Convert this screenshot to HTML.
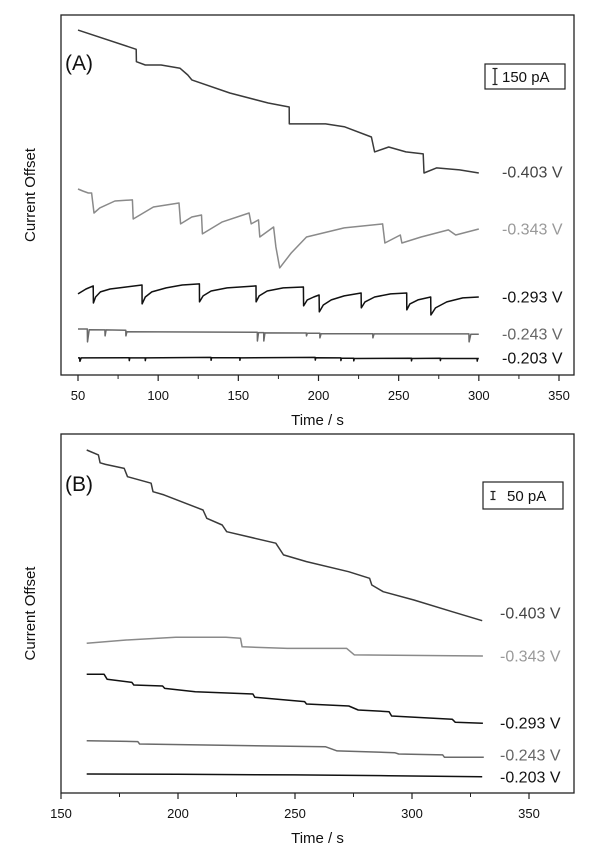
<!DOCTYPE html>
<html><head><meta charset="utf-8"><style>
body{margin:0;background:#fff;}
svg{display:block;font-family:"Liberation Sans",Arial,sans-serif;}
</style></head><body>
<svg id="chart" width="600" height="852" viewBox="0 0 600 852">
  <g id="panelA"></g>
  <g id="panelB"></g>
</svg>
<script>
// ---------- Panel A data (time s, current offset pA) ----------
const aTicks = [50,100,150,200,250,300,350];
const aLabels = ["-0.403 V","-0.343 V","-0.293 V","-0.243 V","-0.203 V"];
const aT403 = [50,86.3,86.4,92,101.8,113.7,118.5,121,144.7,168.6,181.7,181.8,204.4,216,233,235,243.8,254.5,265.3,265.8,273.6,288,300];
const aV403 = [2587,2443,2350,2325,2325,2300,2250,2213,2115,2040,2010,1883,1883,1862,1785,1673,1710,1673,1658,1515,1553,1538,1515];
const aT343 = [50,53,56.4,58.5,60,63.6,73,83.9,84.4,97,113,114,121,127,127.6,140,156.7,158,162.6,163.4,172,173.4,175.8,183,192.5,216,240,241.4,251,252,264,281,285.6,300];
const aV343 = [1395,1380,1365,1365,1215,1253,1305,1313,1170,1260,1290,1133,1185,1200,1058,1148,1215,1133,1163,1035,1110,960,803,915,1035,1103,1133,990,1050,990,1035,1088,1050,1095];
const aT293 = [50,55,59.5,59.6,61,64,70,80,89.9,90,92,96,105,115,125.7,125.8,128,133,143,161,161.1,163,168,178,190.6,190.7,193,197,200.4,200.5,203,208,216,226.6,226.7,229,235,245,255,255.1,257,262,270,270.1,273,280,290,300];
const aV293 = [608,645,668,540,585,623,645,660,675,533,585,623,653,675,683,548,593,630,653,668,548,593,630,653,660,518,563,585,600,473,525,563,593,615,503,548,585,608,615,488,533,563,585,450,503,548,578,585];
const aT243 = [50,55.8,55.9,57,66.8,66.9,67.5,79.8,79.9,80.5,161.8,161.9,162.6,165.8,165.9,166.6,192.4,192.5,193,200.8,200.9,201.6,233.8,233.9,234.6,293.8,293.9,295,300];
const aV243 = [345,345,248,340,338,293,338,335,293,325,320,255,318,318,255,316,315,293,313,313,278,310,310,278,308,308,248,305,305];
const aT203 = [50,51,51.2,52,81.9,82,82.3,91.9,92,92.3,132.9,133,133.3,150.9,151,151.3,197.9,198,198.3,213.9,214,214.3,221.9,222,222.3,257.9,258,258.3,275.9,276,276.3,298.9,299,299.3,300];
const aV203 = [128,128,103,128,130,108,128,128,108,128,132,110,130,130,110,128,132,112,130,128,108,126,126,106,124,126,106,124,126,108,124,124,104,124,124];
// ---------- Panel B data ----------
const bTicks = [150,200,250,300,350];
const bLabels = ["-0.403 V","-0.343 V","-0.293 V","-0.243 V","-0.203 V"];
const bT403 = [161,166,166.7,169,177,178.4,188.5,189.3,194,210.7,212.3,218.9,220.8,241.8,245.1,254.9,272.9,281.9,282.8,287.7,300.8,317.2,330];
const bV403 = [2144,2113,2064,2054,2029,1977,1936,1883,1863,1769,1717,1675,1633,1561,1488,1446,1383,1342,1300,1258,1206,1133,1077];
const bT343 = [161,177.9,199,220.5,226.7,227.4,246.7,272.1,275.4,330.3];
const bV343 = [936,956,973,973,967,914,904,904,863,856];
const bT293 = [161,168.4,169.7,180.3,181.1,193.4,194.3,207.4,232,232.8,254.1,254.9,273,277,290.2,291.3,317.2,318.5,330.3];
const bV293 = [742,742,711,691,675,669,654,633,619,598,571,556,544,519,508,481,461,442,436];
const bT243 = [161,182.8,183.6,263.1,268,292.6,294.3,313.1,313.9,330.7];
const bV243 = [327,321,306,289,263,252,244,238,223,223];
const bT203 = [161,200,250,290,330];
const bV203 = [119,117,113,108,102];

const NS = "http://www.w3.org/2000/svg";
function mk(parent, tag, attrs, text){
  const e = document.createElementNS(NS, tag);
  for (const k in attrs) e.setAttribute(k, attrs[k]);
  if (text !== undefined) e.textContent = text;
  parent.appendChild(e);
  return e;
}

function panel(g, cfg){
  const x = t => cfg.px0 + (t - cfg.t0) * (cfg.px1 - cfg.px0) / (cfg.t1 - cfg.t0);
  const y = v => cfg.bottom - v / cfg.pAperPx;
  // frame
  const fr = mk(g, "rect", {x:cfg.left, y:cfg.top, width:cfg.right-cfg.left, height:cfg.bottom-cfg.top, fill:"none", stroke:"#222", "stroke-width":1.3});
  
  
  // ticks
  cfg.ticks.forEach((t,i) => {
    const tk = mk(g, "line", {x1:x(t), x2:x(t), y1:cfg.bottom, y2:cfg.bottom+6, stroke:"#222", "stroke-width":1.2});
    
    
    const lb = mk(g, "text", {x:x(t), y:cfg.bottom+25, "font-size":13, "text-anchor":"middle", fill:"#111"}, String(t));
    
    
    if (i < cfg.ticks.length-1){
      const m = (t + cfg.ticks[i+1]) / 2;
      const mt = mk(g, "line", {x1:x(m), x2:x(m), y1:cfg.bottom, y2:cfg.bottom+4, stroke:"#222", "stroke-width":1});
      
      
    }
  });
  const xt = mk(g, "text", {x:(cfg.left+cfg.right)/2, y:cfg.bottom+50, "font-size":15, "text-anchor":"middle", fill:"#111"}, "Time / s");
  
  
  const yt = mk(g, "text", {x:0, y:0, "font-size":15, "text-anchor":"middle", fill:"#111", transform:`translate(35,${(cfg.top+cfg.bottom)/2}) rotate(-90)`}, "Current Offset");
  
  
  const pl = mk(g, "text", {x:cfg.left+4, y:cfg.top+cfg.panelDy, "font-size":21, fill:"#111"}, cfg.panelLabel);
  
  
  // legend scale bar
  const lg = mk(g, "g", {});
  
  
  mk(lg, "rect", {x:cfg.leg[0], y:cfg.leg[1], width:cfg.leg[2], height:cfg.leg[3], fill:"#fff", stroke:"#222", "stroke-width":1.2});
  const bx = cfg.leg[0]+10, bm = cfg.leg[1]+cfg.leg[3]/2, bh = cfg.barPA/cfg.pAperPx/2;
  mk(lg, "line", {x1:bx, x2:bx, y1:bm-bh, y2:bm+bh, stroke:"#222", "stroke-width":1.3});
  mk(lg, "line", {x1:bx-2.5, x2:bx+2.5, y1:bm-bh, y2:bm-bh, stroke:"#222", "stroke-width":1.2});
  mk(lg, "line", {x1:bx-2.5, x2:bx+2.5, y1:bm+bh, y2:bm+bh, stroke:"#222", "stroke-width":1.2});
  mk(lg, "text", {x:bx+cfg.legTextDx, y:bm+5.5, "font-size":15, fill:"#111"}, cfg.barText);
  // series
  cfg.series.forEach((s,i) => {
    const d = s.t.map((t,j) => (j?"L":"M") + x(t).toFixed(1) + "," + y(s.v[j]).toFixed(1)).join("");
    const p = mk(g, "path", {d:d, fill:"none", stroke:s.c, "stroke-width":1.5, "stroke-linejoin":"round"});
    
    
    const lt = mk(g, "text", {x:cfg.labelX, y:s.ly+5.5, "font-size":16, fill:s.lc}, cfg.labels[i]);
    
    
  });
}

panel(document.getElementById("panelA"), {
  left:61, right:574, top:15, bottom:375, t0:50, t1:350, px0:78, px1:559, pAperPx:7.5,
  ticks:aTicks, labels:aLabels, panelLabel:"(A)", panelDy:55,
  leg:[485,64,80,25], barPA:120, barText:"150 pA", legTextDx:7,
  labelX:502,
  series:[
    {t:aT403, v:aV403, c:"#3a3a3a", lc:"#444", ly:172},
    {t:aT343, v:aV343, c:"#8a8a8a", lc:"#999", ly:229},
    {t:aT293, v:aT293.length?aV293:[], c:"#111", lc:"#111", ly:297},
    {t:aT243, v:aV243, c:"#6a6a6a", lc:"#666", ly:334},
    {t:aT203, v:aV203, c:"#111", lc:"#111", ly:358}
  ]
});
panel(document.getElementById("panelB"), {
  left:61, right:574, top:434, bottom:793, t0:150, t1:350, px0:61, px1:529, pAperPx:6.25,
  ticks:bTicks, labels:bLabels, panelLabel:"(B)", panelDy:57,
  leg:[483,482,80,27], barPA:50, barText:"50 pA", legTextDx:14,
  labelX:500,
  series:[
    {t:bT403, v:bV403, c:"#3a3a3a", lc:"#444", ly:613},
    {t:bT343, v:bV343, c:"#8a8a8a", lc:"#999", ly:656},
    {t:bT293, v:bV293, c:"#111", lc:"#111", ly:723},
    {t:bT243, v:bV243, c:"#6a6a6a", lc:"#666", ly:755},
    {t:bT203, v:bV203, c:"#111", lc:"#111", ly:777}
  ]
});
</script>
</body></html>
